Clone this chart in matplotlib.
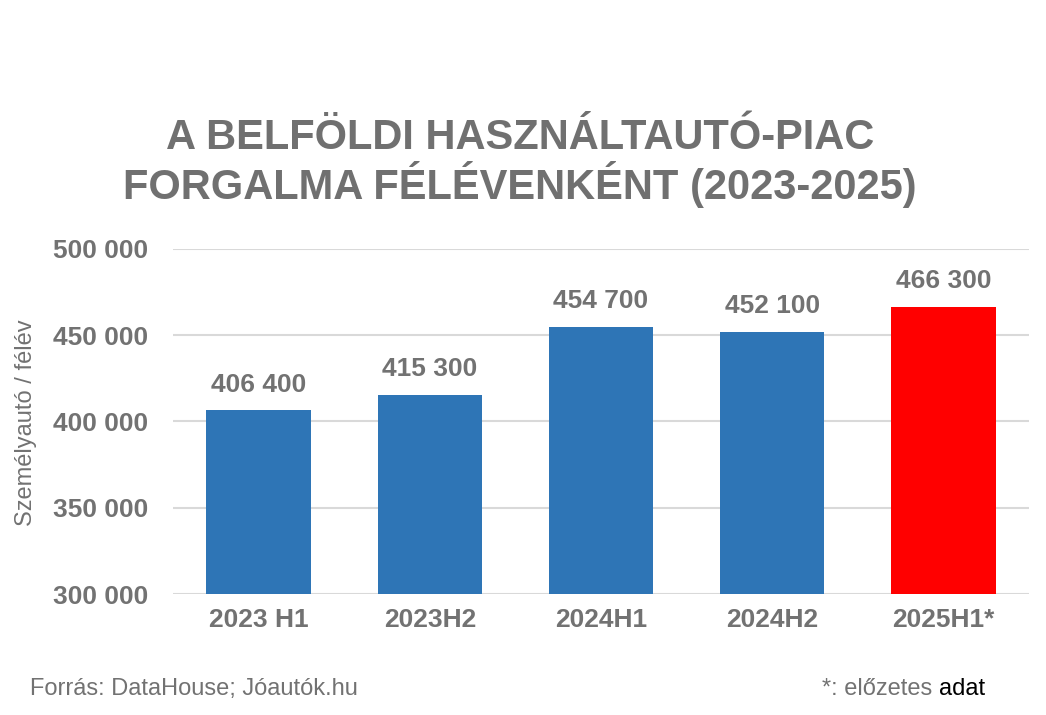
import matplotlib
matplotlib.use("Agg")
import matplotlib.pyplot as plt

categories = ["2023 H1", "2023H2", "2024H1", "2024H2", "2025H1*"]
values = [406400, 415300, 454700, 452100, 466300]
bar_colors = ["#2E75B6", "#2E75B6", "#2E75B6", "#2E75B6", "#FF0000"]
yticks = [300000, 350000, 400000, 450000, 500000]
title_text = "A BELFÖLDI HASZNÁLTAUTÓ-PIAC\nFORGALMA FÉLÉVENKÉNT (2023-2025)"
ylabel_text = "Személyautó / félév"
source_text = "Forrás: DataHouse; Jóautók.hu"
note_gray = "*: előzetes "
note_black = "adat"

def fmt(v):
    return f"{v:,}".replace(",", " ")

plt.rcParams['font.family'] = ['Liberation Sans', 'DejaVu Sans']
GRAY = "#727272"

W, H = 1046, 715
fig = plt.figure(figsize=(W / 100, H / 100), dpi=100)
ax = fig.add_axes([173 / W, 1 - 594 / H, (1029 - 173) / W, (594 - 249) / H])

x = list(range(len(categories)))
bars = ax.bar(x, values, width=0.61, color=bar_colors, zorder=3)
ax.set_xlim(-0.5, len(categories) - 0.5)
ax.set_ylim(300000, 500000)
ax.set_yticks(yticks)
ax.set_yticklabels([fmt(v) for v in yticks])
ax.set_xticks(x)
ax.set_xticklabels(categories)
for lab in ax.get_xticklabels() + ax.get_yticklabels():
    lab.set_fontsize(19)
    lab.set_fontweight("bold")
    lab.set_color(GRAY)
ax.tick_params(axis="both", length=0)
ax.tick_params(axis="y", pad=18)
ax.tick_params(axis="x", pad=10)
ax.grid(axis="y", color="#D9D9D9", linewidth=1.5, zorder=0)
for s in ax.spines.values():
    s.set_visible(False)

for xi, v in zip(x, values):
    ax.annotate(fmt(v), (xi, v), xytext=(0, 10), textcoords="offset points",
                ha="center", va="bottom", fontsize=19, fontweight="bold", color=GRAY)

fig.text(26 / W, 1 - 423 / H, ylabel_text, rotation=90, ha="center", va="center",
         fontsize=17, color=GRAY)

fig.text(520 / W, 1 - 163 / H, title_text, ha="center", va="center",
         fontsize=30, fontweight="bold", color="#707070", linespacing=1.07)

fig.text(30 / W, 1 - 689 / H, source_text, ha="left", va="center",
         fontsize=17, color=GRAY)
t1 = fig.text(822 / W, 1 - 689 / H, note_gray, ha="left", va="center",
              fontsize=17, color=GRAY)
fig.canvas.draw()
bb = t1.get_window_extent()
fig.text(bb.x1 / W, 1 - 689 / H, note_black, ha="left", va="center",
         fontsize=17, color="black")

fig.savefig("out.png", dpi=100)
